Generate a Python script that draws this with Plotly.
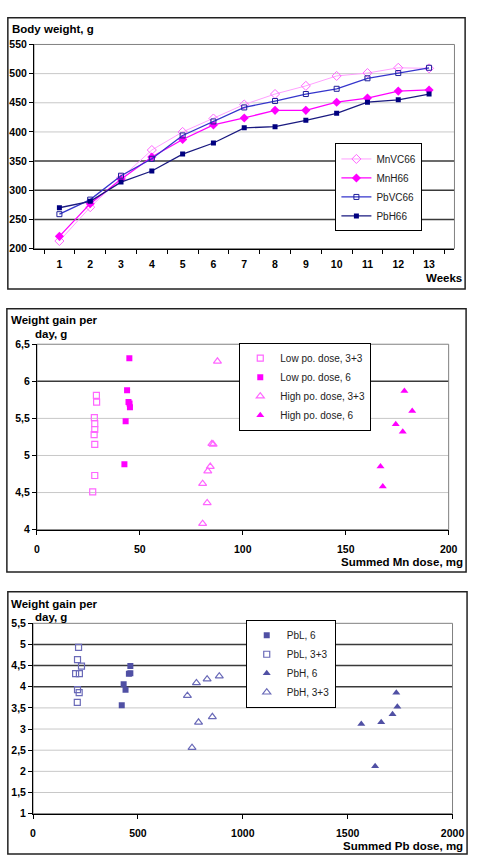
import plotly.graph_objects as go

W, H = 481, 865

# ---------------- Panel 1 data ----------------
weeks = [str(i) for i in range(1, 14)]
mnvc66 = [213, 271, 321, 369, 400, 423, 447, 465, 479, 496, 501, 510, 509]
mnh66 = [221, 277, 319, 357, 387, 412, 424, 437, 437, 451, 458, 470, 472]
pbvc66 = [259, 284, 325, 354, 394, 418, 442, 453, 465, 474, 492, 501, 510]
pbh66 = [270, 281, 314, 333, 362, 381, 407, 409, 420, 432, 451, 455, 465]
p1_yticks = [200, 250, 300, 350, 400, 450, 500, 550]

# ---------------- Panel 2 data ----------------
mn_low33_x = [28.9, 29.0, 27.9, 28.1, 28.1, 27.8, 28.1, 28.1, 27.1]
mn_low33_y = [5.81, 5.72, 5.51, 5.43, 5.35, 5.28, 5.15, 4.73, 4.51]
mn_low6_x = [44.9, 43.8, 44.5, 45.0, 45.2, 43.1, 42.5]
mn_low6_y = [6.31, 5.88, 5.72, 5.70, 5.65, 5.46, 4.88]
mn_high33_x = [87.7, 85.0, 85.6, 84.2, 83.0, 80.5, 82.7, 80.5]
mn_high33_y = [6.27, 5.16, 5.15, 4.85, 4.79, 4.62, 4.36, 4.08]
mn_high6_x = [178.5, 182.3, 174.3, 177.7, 166.9, 168.0]
mn_high6_y = [5.87, 5.60, 5.42, 5.32, 4.85, 4.58]
p2_yticks = [4, 4.5, 5, 5.5, 6, 6.5]
p2_ytext = ["4", "4,5", "5", "5,5", "6", "6,5"]
p2_xticks = [0, 50, 100, 150, 200]

# ---------------- Panel 3 data ----------------
pb_l6_x = [423, 432, 441, 464, 457, 464]
pb_l6_y = [3.56, 4.06, 3.93, 4.49, 4.31, 4.32]
pb_l33_x = [217, 212, 231, 203, 221, 212, 220, 211]
pb_l33_y = [4.93, 4.64, 4.49, 4.31, 4.31, 3.93, 3.86, 3.63]
pb_h6_x = [1565, 1660, 1714, 1732, 1737, 1631]
pb_h6_y = [3.12, 3.16, 3.35, 3.86, 3.53, 2.12]
pb_h33_x = [736, 779, 830, 888, 789, 855, 758]
pb_h33_y = [3.79, 4.09, 4.18, 4.25, 3.16, 3.29, 2.56]
p3_yticks = [1, 1.5, 2, 2.5, 3, 3.5, 4, 4.5, 5, 5.5]
p3_ytext = ["1", "1,5", "2", "2,5", "3", "3,5", "4", "4,5", "5", "5,5"]
p3_xticks = [0, 500, 1000, 1500, 2000]

FONT = "Liberation Sans, Arial, sans-serif"
MAG = "#FF00FF"
MAG_L = "#FF66FF"
PB = "#5050A4"
PB_L = "#6A6AB8"


def px(x):
    return x / W


def py(y):
    return 1 - y / H


fig = go.Figure()

# Panel 1 traces
fig.add_trace(go.Scatter(x=weeks, y=mnvc66, name="MnVC66", mode="lines+markers",
                         line=dict(color="#FFA0FF", width=1),
                         marker=dict(symbol="diamond-open", size=7, color=MAG_L, line=dict(width=1)),
                         xaxis="x", yaxis="y", legend="legend"))
fig.add_trace(go.Scatter(x=weeks, y=mnh66, name="MnH66", mode="lines+markers",
                         line=dict(color=MAG, width=1.3),
                         marker=dict(symbol="diamond", size=7, color=MAG),
                         xaxis="x", yaxis="y", legend="legend"))
fig.add_trace(go.Scatter(x=weeks, y=pbvc66, name="PbVC66", mode="lines+markers",
                         line=dict(color="#3535CC", width=1.3),
                         marker=dict(symbol="square-open", size=5, color="#1F1F99", line=dict(width=1)),
                         xaxis="x", yaxis="y", legend="legend"))
fig.add_trace(go.Scatter(x=weeks, y=pbh66, name="PbH66", mode="lines+markers",
                         line=dict(color="#1A1A80", width=1.3),
                         marker=dict(symbol="square", size=5, color="#000080"),
                         xaxis="x", yaxis="y", legend="legend"))

# Panel 2 traces
fig.add_trace(go.Scatter(x=mn_low33_x, y=mn_low33_y, name="Low po. dose, 3+3", mode="markers",
                         marker=dict(symbol="square-open", size=6, color=MAG_L, line=dict(width=1.2)),
                         xaxis="x2", yaxis="y2", legend="legend2"))
fig.add_trace(go.Scatter(x=mn_low6_x, y=mn_low6_y, name="Low po. dose, 6", mode="markers",
                         marker=dict(symbol="square", size=6, color=MAG),
                         xaxis="x2", yaxis="y2", legend="legend2"))
fig.add_trace(go.Scatter(x=mn_high33_x, y=mn_high33_y, name="High po. dose, 3+3", mode="markers",
                         marker=dict(symbol="triangle-up-open", size=7, color=MAG_L, line=dict(width=1.2)),
                         xaxis="x2", yaxis="y2", legend="legend2"))
fig.add_trace(go.Scatter(x=mn_high6_x, y=mn_high6_y, name="High po. dose, 6", mode="markers",
                         marker=dict(symbol="triangle-up", size=7, color=MAG),
                         xaxis="x2", yaxis="y2", legend="legend2"))

# Panel 3 traces
fig.add_trace(go.Scatter(x=pb_l6_x, y=pb_l6_y, name="PbL, 6", mode="markers",
                         marker=dict(symbol="square", size=6, color=PB),
                         xaxis="x3", yaxis="y3", legend="legend3"))
fig.add_trace(go.Scatter(x=pb_l33_x, y=pb_l33_y, name="PbL, 3+3", mode="markers",
                         marker=dict(symbol="square-open", size=6, color=PB_L, line=dict(width=1.2)),
                         xaxis="x3", yaxis="y3", legend="legend3"))
fig.add_trace(go.Scatter(x=pb_h6_x, y=pb_h6_y, name="PbH, 6", mode="markers",
                         marker=dict(symbol="triangle-up", size=7, color=PB),
                         xaxis="x3", yaxis="y3", legend="legend3"))
fig.add_trace(go.Scatter(x=pb_h33_x, y=pb_h33_y, name="PbH, 3+3", mode="markers",
                         marker=dict(symbol="triangle-up-open", size=7, color=PB_L, line=dict(width=1.2)),
                         xaxis="x3", yaxis="y3", legend="legend3"))

tickfont = dict(family=FONT, size=10.5, color="black", weight="bold")
axis_common = dict(showgrid=False, zeroline=False, showline=True, linecolor="black", linewidth=1,
                   ticks="outside", ticklen=4, tickcolor="black", tickfont=tickfont, fixedrange=True)

shapes = []
LIGHT = "#C8C8C8"
DARK = "#3A3A3A"


def grid(yref, xdom, ydom, vals, dark):
    for v in vals:
        shapes.append(dict(type="line", xref=xdom, yref=yref, x0=0, x1=1, y0=v, y1=v,
                           line=dict(color=DARK if v in dark else LIGHT,
                                     width=1.5 if v in dark else 1), layer="below"))
    shapes.append(dict(type="rect", xref=xdom, yref=ydom,
                       x0=0, x1=1, y0=0, y1=1, line=dict(color="#808080", width=1), layer="below"))


grid("y", "x domain", "y domain", p1_yticks[1:-1], [250, 300, 350])
grid("y2", "x2 domain", "y2 domain", p2_yticks[1:-1], [6])
grid("y3", "x3 domain", "y3 domain", p3_yticks[1:-1], [4, 4.5, 5])

# outer panel boxes
for (x0, y0, x1, y1) in [(5, 12, 477, 287), (4, 307, 478, 574), (5, 594, 479, 860)]:
    shapes.append(dict(type="rect", xref="paper", yref="paper", x0=px(x0), x1=px(x1),
                       y0=py(y1), y1=py(y0), line=dict(color="#222222", width=1.5)))

annotations = []


def label(text, x, y, anchor="left"):
    annotations.append(dict(text=text, x=px(x), y=py(y), xref="paper", yref="paper",
                            xanchor=anchor, yanchor="middle", showarrow=False,
                            font=dict(family=FONT, size=11.5, color="black", weight="bold")))


label("Body weight, g", 7, 23)
label("Weeks", 476, 276, "right")
label("Weight gain per", 6, 318)
label("day, g", 31, 333)
label("Summed Mn dose, mg", 477, 564, "right")
label("Weight gain per", 6, 606)
label("day, g", 31, 620)
label("Summed Pb dose, mg", 477, 852, "right")

legend_common = dict(bgcolor="white", bordercolor="black", borderwidth=1,
                     font=dict(family=FONT, size=10, color="#222222"),
                     xanchor="center", yanchor="middle", tracegroupgap=0, itemwidth=30)

fig.update_layout(
    width=W, height=H, margin=dict(l=0, r=0, t=0, b=0),
    paper_bgcolor="white", plot_bgcolor="white",
    font=dict(family=FONT, size=10, color="black"),
    showlegend=True,
    xaxis=dict(axis_common, domain=[px(32), px(466)], anchor="y", type="category",
               tickson="boundaries", ticklabelstandoff=6),
    yaxis=dict(axis_common, domain=[py(246), py(39)], anchor="x", range=[200, 550],
               tickvals=p1_yticks),
    xaxis2=dict(axis_common, domain=[px(35), px(460)], anchor="y2", range=[0, 200],
                tickvals=p2_xticks, ticklabelstandoff=6),
    yaxis2=dict(axis_common, domain=[py(531), py(343)], anchor="x2", range=[4, 6.5],
                tickvals=p2_yticks, ticktext=p2_ytext),
    xaxis3=dict(axis_common, domain=[px(31), px(464)], anchor="y3", range=[0, 2000],
                tickvals=p3_xticks, ticklabelstandoff=6),
    yaxis3=dict(axis_common, domain=[py(819), py(626)], anchor="x3", range=[1, 5.5],
                tickvals=p3_yticks, ticktext=p3_ytext),
    legend=dict(legend_common, x=px(388), y=py(184)),
    legend2=dict(legend_common, x=px(312), y=py(386)),
    legend3=dict(legend_common, x=px(297), y=py(667)),
    shapes=shapes, annotations=annotations,
)

fig.write_html("out.html")
